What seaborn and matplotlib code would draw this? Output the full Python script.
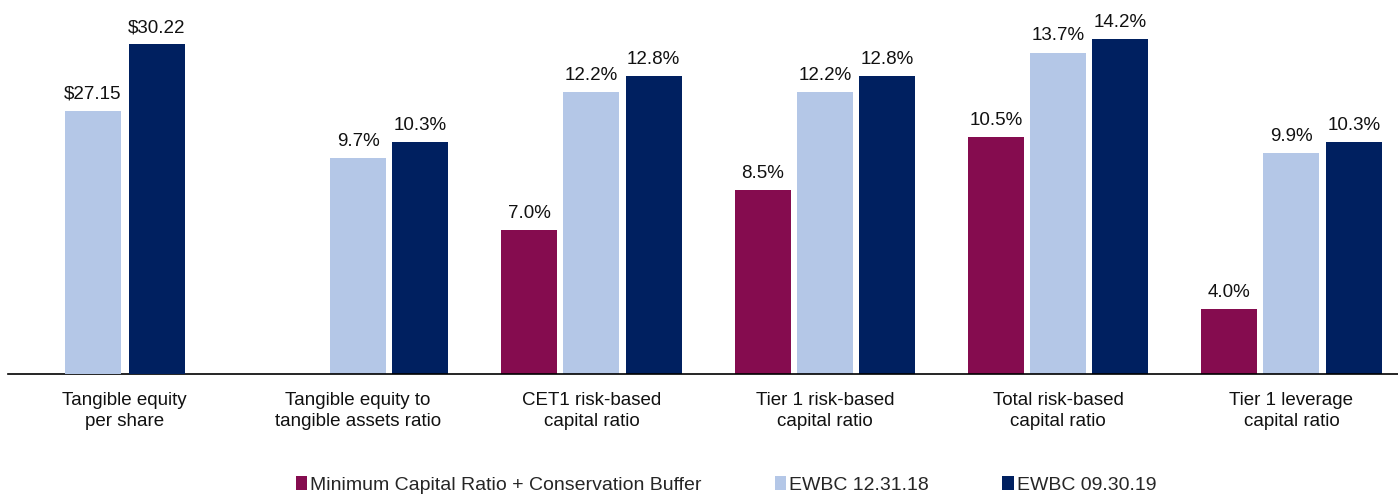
import matplotlib
matplotlib.use("Agg")
import matplotlib.pyplot as plt
from matplotlib.patches import Patch
import seaborn as sns
import pandas as pd

# Categories shown along the x axis
categories = [
    "Tangible equity\nper share",
    "Tangible equity to\ntangible assets ratio",
    "CET1 risk-based\ncapital ratio",
    "Tier 1 risk-based\ncapital ratio",
    "Total risk-based\ncapital ratio",
    "Tier 1 leverage\ncapital ratio",
]
series = ["Minimum Capital Ratio + Conservation Buffer", "EWBC 12.31.18", "EWBC 09.30.19"]

# Dollar metric (first category)
dollar_1231 = 27.15
dollar_0930 = 30.22

# Ratio metrics (%), categories 2..6; None where no minimum applies
ratio_min = [None, 7.0, 8.5, 10.5, 4.0]
ratio_1231 = [9.7, 12.2, 12.2, 13.7, 9.9]
ratio_0930 = [10.3, 12.8, 12.8, 14.2, 10.3]

colors = {series[0]: "#850C4F", series[1]: "#B4C7E7", series[2]: "#002060"}

rows = []
for cat, m, a, b in zip(categories[1:], ratio_min, ratio_1231, ratio_0930):
    if m is not None:
        rows.append((cat, series[0], m))
    rows.append((cat, series[1], a))
    rows.append((cat, series[2], b))
ratio_df = pd.DataFrame(rows, columns=["category", "series", "value"])

dollar_df = pd.DataFrame(
    [(categories[0], series[1], dollar_1231), (categories[0], series[2], dollar_0930)],
    columns=["category", "series", "value"],
)

sns.set_theme(style="white")
plt.rcParams["font.family"] = ["Liberation Sans", "DejaVu Sans"]

W, H = 1398, 494
fig = plt.figure(figsize=(W / 100, H / 100), dpi=100)
base_px, top_px, left_px = 373.5, 20, 8
ax = fig.add_axes([left_px / W, 1 - base_px / H, 1 - left_px / W, (base_px - top_px) / H])

sns.barplot(data=ratio_df, x="category", y="value", hue="series", order=categories,
            hue_order=series, palette=colors, width=0.8, gap=0.1, linewidth=0,
            saturation=1, legend=False, ax=ax)

ax2 = ax.twinx()
sns.barplot(data=dollar_df, x="category", y="value", hue="series", order=categories,
            hue_order=series[1:], palette=colors, width=0.549, gap=0.126, linewidth=0,
            saturation=1, legend=False, ax=ax2)

# Value scales (baseline offset as in the source layout)
ax.set_ylim(1.56, 1.56 + (base_px - top_px) / 26.44)
ax2.set_ylim(15.06, 15.06 + (base_px - top_px) / 21.73)
ax.set_xlim(-0.5, (W - 125) / 233.3)

label_kw = dict(padding=5.8, fontsize=13.5, color="#111111")
for c in ax.containers:
    ax.bar_label(c, fmt="%.1f%%", **label_kw)
for c in ax2.containers:
    ax2.bar_label(c, labels=[f"${v:.2f}" for v in c.datavalues], **label_kw)

for a in (ax, ax2):
    for side in ("top", "right", "left"):
        a.spines[side].set_visible(False)
    a.set_yticks([])
    a.set_ylabel("")
    a.set_xlabel("")
ax2.spines["bottom"].set_visible(False)
ax.spines["bottom"].set_color("black")
ax.spines["bottom"].set_linewidth(1.2)

ax.set_xticks(range(len(categories)))
ax.set_xticklabels(categories, fontsize=13.5, color="#111111", linespacing=1.3)
ax.tick_params(axis="x", length=0, pad=13.5)

handles = [Patch(facecolor=colors[s], edgecolor="none") for s in series]
fig.legend(handles, series, loc="center", bbox_to_anchor=(726 / W, 1 - 485 / H), ncol=3,
           frameon=False, fontsize=14, handlelength=0.6, handleheight=0.7,
           handletextpad=0.15, columnspacing=3.75)

fig.savefig("out.png", dpi=100)
